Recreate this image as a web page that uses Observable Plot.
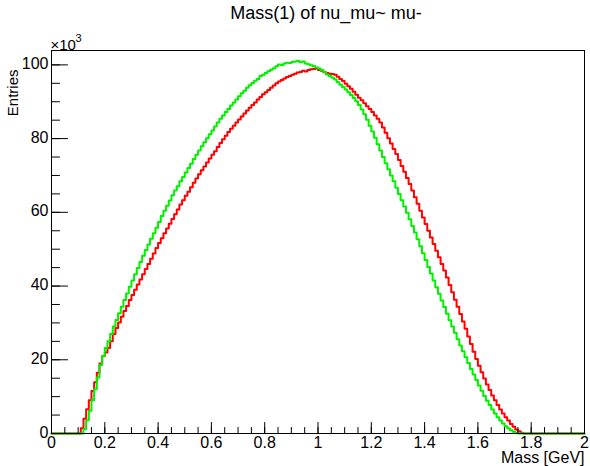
<!DOCTYPE html>
<html><head><meta charset="utf-8">
<script src="https://cdn.jsdelivr.net/npm/d3@7"></script>
<script src="https://cdn.jsdelivr.net/npm/@observablehq/plot@0.6"></script>
<style>
body{margin:0;background:#fff;}
#wrap{width:590px;height:466px;font-family:"Liberation Sans",Arial,sans-serif;background:#fff;}
#title{height:26px;width:590px;text-align:center;font-size:18px;line-height:26px;padding-left:62px;box-sizing:border-box;color:#000;}
</style></head><body>
<div id="wrap"><div id="title">Mass(1) of nu_mu~ mu-</div><div id="chart"></div></div>
<script>
// histogram: 200 bins of width 0.01 GeV from 0 to 2, entries in thousands
const binWidth = 0.01;
const nBins = 200;
const redCounts = [
 0,0,0,0,0,0,0,0,0,0,
 0,1.4,4.0,6.6,9.0,11.5,13.9,16.5,19.0,21.0,
 22.0,23.2,25.0,27.0,28.6,30.1,31.7,33.2,34.6,36.2,
 37.6,39.0,40.4,41.8,43.2,44.6,46.0,47.4,48.8,50.3,
 51.7,53.0,54.3,55.6,56.9,58.2,59.5,60.8,62.1,63.3,
 64.5,65.6,66.8,68.0,69.2,70.3,71.4,72.4,73.5,74.6,
 75.6,76.6,77.7,78.8,79.8,80.8,81.8,82.7,83.5,84.4,
 85.2,86.0,86.8,87.6,88.4,89.1,89.8,90.6,91.3,92.0,
 92.6,93.2,93.8,94.4,95.0,95.5,95.9,96.3,96.7,97.0,
 97.3,97.6,97.9,98.1,98.4,98.2,98.6,98.8,98.9,99.0,
 98.6,98.4,98.0,97.8,97.6,97.5,97.3,96.8,96.2,95.6,
 94.9,94.2,93.5,92.7,91.9,91.1,90.4,89.6,88.8,88.0,
 87.2,86.3,85.4,84.4,83.0,81.6,80.1,78.7,77.2,75.8,
 74.2,72.6,71.0,69.3,67.7,65.9,64.1,62.3,60.4,58.6,
 56.8,55.0,53.2,51.4,49.6,47.8,46.0,44.2,42.3,40.3,
 38.3,36.3,34.4,32.4,30.4,28.4,26.3,24.3,22.2,20.2,
 18.4,16.6,14.9,13.3,11.8,10.3,9.0,7.7,6.5,5.4,
 4.4,3.5,2.6,1.8,1.1,0.6,0.2,0,0,0,
 0,0,0,0,0,0,0,0,0,0,
 0,0,0,0,0,0,0,0,0,0
];
const greenCounts = [
 0,0,0,0,0,0,0,0,0,0,
 0,0,1.2,3.6,6.2,9.0,12.0,15.2,18.6,21.0,
 23.2,25.0,27.0,29.0,30.8,32.6,34.4,36.2,38.0,39.8,
 41.5,43.2,44.9,46.5,48.2,49.8,51.3,52.8,54.3,55.8,
 57.4,59.0,60.4,61.8,63.2,64.6,65.9,67.1,68.4,69.6,
 70.8,72.0,73.2,74.5,75.6,76.8,77.9,79.0,80.1,81.2,
 82.2,83.3,84.4,85.4,86.3,87.2,88.0,89.0,89.8,90.6,
 91.5,92.3,93.0,93.8,94.5,95.1,95.7,96.2,97.0,97.3,
 97.8,98.3,98.7,99.1,99.6,100.1,100.0,100.4,100.6,100.5,
 100.8,100.9,101.1,100.7,100.9,100.4,100.2,99.9,99.6,99.3,
 99.0,98.6,98.0,97.4,97.0,96.5,96.0,95.3,94.6,94.0,
 93.3,92.6,91.8,91.0,90.1,89.1,87.9,86.6,85.1,83.5,
 81.9,80.2,78.5,76.8,75.0,73.3,71.7,70.0,68.4,66.7,
 65.0,63.3,61.6,59.9,58.1,56.3,54.5,52.7,50.8,48.9,
 47.1,45.2,43.4,41.5,39.7,37.9,36.1,34.3,32.5,30.7,
 29.0,27.3,25.6,23.9,22.3,20.7,19.1,17.5,16.0,14.5,
 13.0,11.6,10.2,8.9,7.7,6.5,5.4,4.4,3.5,2.7,
 2.0,1.4,0.9,0.5,0.2,0,0,0,0,0,
 0,0,0,0,0,0,0,0,0,0,
 0,0,0,0,0,0,0,0,0,0
];
const xMajorTicks = [0,0.2,0.4,0.6,0.8,1,1.2,1.4,1.6,1.8,2];
const xTickLabels = ["0","0.2","0.4","0.6","0.8","1","1.2","1.4","1.6","1.8","2"];
const yMajorTicks = [0,20,40,60,80,100];
const yTickLabels = ["0","20","40","60","80","100"];
const xMinorTicks = d3.range(0, 2.0001, 0.05);
const yMinorTicks = d3.range(0, 103, 5);
const xTitle = "Mass [GeV]";
const yTitle = "Entries";
const yExpBase = "×10";
const yExpPower = "3";

function stepPoints(counts){
  const pts = counts.map((v,i) => ({x: i*binWidth, y: v}));
  pts.push({x: nBins*binWidth, y: counts[counts.length-1]});
  return pts;
}
const tickShape = {draw(context, l){ context.moveTo(0,0); context.lineTo(0,-l); }};

const plot = Plot.plot({
  width: 590, height: 440,
  marginTop: 24, marginLeft: 51, marginRight: 6, marginBottom: 33,
  style: {fontFamily: "'Liberation Sans', Arial, sans-serif", background: "#fff", color: "#000"},
  x: {domain: [0, 2], axis: null},
  y: {domain: [0, 103.9], axis: null},
  marks: [
    Plot.line(stepPoints(redCounts), {x: "x", y: "y", curve: "step-after", stroke: "#ff0000", strokeWidth: 2}),
    Plot.line(stepPoints(greenCounts), {x: "x", y: "y", curve: "step-after", stroke: "#00f000", strokeWidth: 2}),
    Plot.vector(xMinorTicks, {x: d => d, y: () => 0, length: 6, rotate: 0, anchor: "start", shape: tickShape, stroke: "#000", strokeWidth: 1}),
    Plot.vector(xMajorTicks, {x: d => d, y: () => 0, length: 11, rotate: 0, anchor: "start", shape: tickShape, stroke: "#000", strokeWidth: 1}),
    Plot.vector(yMinorTicks, {x: () => 0, y: d => d, length: 8, rotate: 90, anchor: "start", shape: tickShape, stroke: "#000", strokeWidth: 1}),
    Plot.vector(yMajorTicks, {x: () => 0, y: d => d, length: 16, rotate: 90, anchor: "start", shape: tickShape, stroke: "#000", strokeWidth: 1}),
    Plot.text(xMajorTicks, {x: d => d, y: () => 0, text: (d, i) => xTickLabels[i], lineAnchor: "top", dy: 3, fontSize: 16, fill: "#000"}),
    Plot.text(yMajorTicks, {x: () => 0, y: d => d, text: (d, i) => yTickLabels[i], textAnchor: "end", lineAnchor: "middle", dx: -3, dy: -1, fontSize: 16, fill: "#000"}),
    Plot.frame({stroke: "#000", strokeWidth: 1}),
    Plot.text([xTitle], {frameAnchor: "bottom-right", textAnchor: "end", lineAnchor: "top", dy: 18, fontSize: 16, fill: "#000"}),
    Plot.text([yTitle], {frameAnchor: "top-left", textAnchor: "end", lineAnchor: "middle", rotate: -90, dx: -38, dy: 19, fontSize: 15, fill: "#000"}),
    Plot.text([yExpBase], {frameAnchor: "top-left", textAnchor: "start", lineAnchor: "bottom", dx: -1, dy: -1, fontSize: 15, fill: "#000"}),
    Plot.text([yExpPower], {frameAnchor: "top-left", textAnchor: "start", lineAnchor: "bottom", dx: 24, dy: -9, fontSize: 11, fill: "#000"})
  ]
});
document.getElementById("chart").appendChild(plot);
</script>
</body></html>
